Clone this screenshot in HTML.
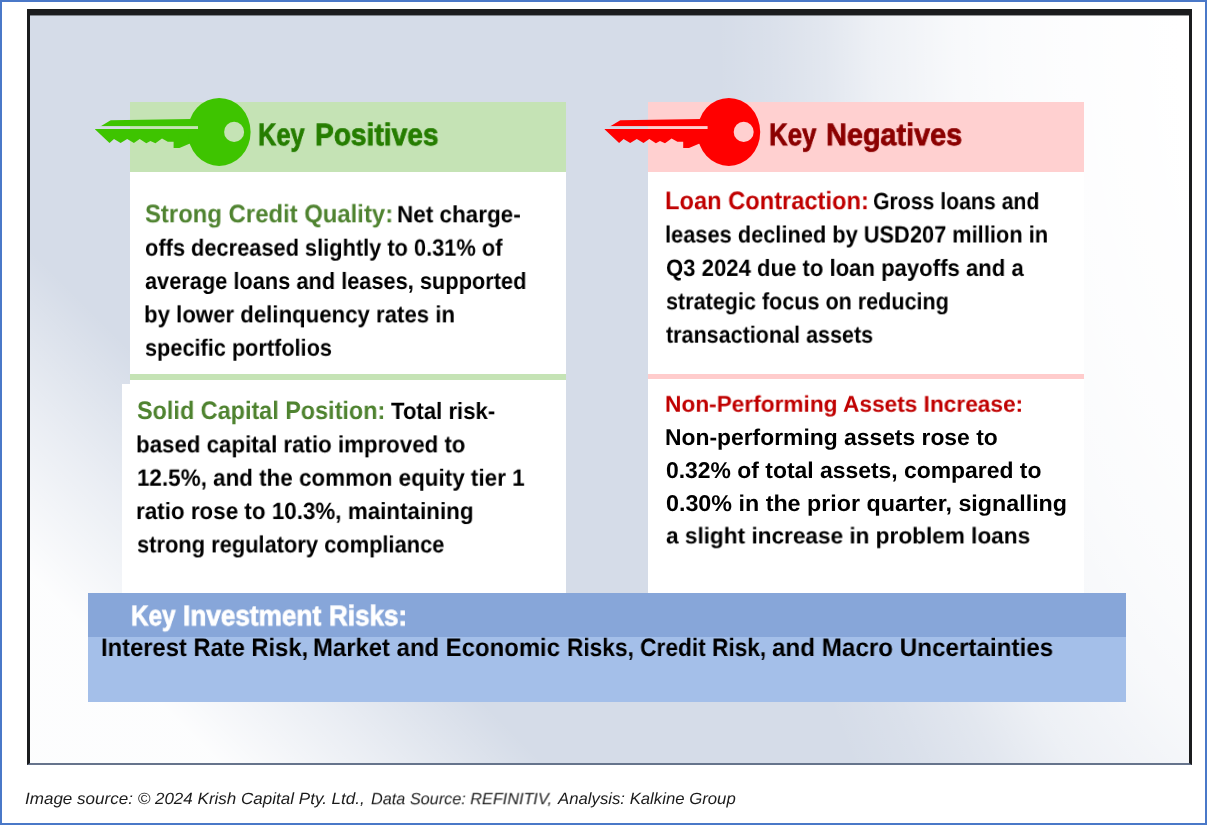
<!DOCTYPE html>
<html><head><meta charset="utf-8"><title>Key Positives and Negatives</title><style>

html,body{margin:0;padding:0;}
body{width:1207px;height:825px;position:relative;overflow:hidden;background:#fff;
 font-family:"Liberation Sans",sans-serif;text-rendering:geometricPrecision;}
.outer{position:absolute;left:0;top:0;width:1203px;height:821px;border:2px solid #4a78c8;}
.panel{position:absolute;left:27px;top:9px;width:1159px;height:748px;
 border-style:solid;border-color:#1b1c1e;border-width:6px 3px 2px 3px;border-bottom-color:#66748c;box-shadow:inset 0 1px 0 rgba(27,28,30,.45);
 background:linear-gradient(45deg,rgba(255,255,255,.94) 0%,rgba(255,255,255,.94) 10%,rgba(255,255,255,.5) 18.5%,rgba(255,255,255,0) 27%),
 radial-gradient(ellipse 643px 1225px at 1329px 0px,#fff 28%,rgba(255,255,255,.95) 45%,rgba(255,255,255,.89) 56%,rgba(255,255,255,.82) 63.3%,rgba(255,255,255,.7) 69%,rgba(255,255,255,.58) 75.5%,rgba(255,255,255,.32) 83%,rgba(255,255,255,.12) 91.8%,rgba(255,255,255,0) 100%),#d5dce8;}
.bx{position:absolute;}
.ln{position:absolute;white-space:pre;line-height:1;transform-origin:0 0;font-weight:bold;will-change:transform;filter:blur(.3px);}
.ln.i{font-weight:normal;font-style:italic;}
.ln.t{-webkit-text-stroke:0.8px currentColor;}
.key{position:absolute;left:0;top:0;}

</style></head><body>
<div class="outer"></div><div class="panel"></div>
<div class="bx" style="left:130px;top:101.5px;width:436.3px;height:71px;background:#c5e3b5;"></div>
<div class="bx" style="left:130px;top:172px;width:436.3px;height:212px;background:#fff;"></div>
<div class="bx" style="left:130px;top:374px;width:436.3px;height:6px;background:#c5e3b5;"></div>
<div class="bx" style="left:122px;top:384px;width:444.3px;height:209px;background:#fff;"></div>
<div class="bx" style="left:648px;top:101.5px;width:436.3px;height:71px;background:#ffd0d0;"></div>
<div class="bx" style="left:648px;top:172px;width:436.3px;height:421px;background:#fff;"></div>
<div class="bx" style="left:648px;top:374px;width:436.3px;height:5px;background:#ffcccc;"></div>
<div class="bx" style="left:88.3px;top:593.3px;width:1038px;height:108.7px;background:#a4bfe9;"></div>
<div class="bx" style="left:88.3px;top:593.3px;width:1038px;height:43.5px;background:#87a6d9;"></div>
<svg class="key" width="1207" height="825" viewBox="0 0 1207 825"><defs><mask id="mg" maskUnits="userSpaceOnUse" x="0" y="0" width="1207" height="825"><rect x="0" y="0" width="1207" height="825" fill="#fff"/><ellipse cx="234.1" cy="131.9" rx="10" ry="10.2" fill="#000"/><rect x="88.0" y="126.1" width="110.0" height="2.9" fill="#000"/></mask></defs><g mask="url(#mg)" fill="#3ec400"><polygon points="100.7,126.2 110.7,120.3 191.0,119.0 200.0,119.0 200.0,146.0 189.4,143.8 179.4,148.0 173.6,148.0 173.6,141.7 167.8,141.7 162.0,138.4 155.4,143.3 150.4,141.0 146.3,143.3 139.7,138.9 133.9,143.0 127.2,138.9 120.6,143.0 114.0,138.9 109.5,143.0 94.9,129.3"/><ellipse cx="219.2" cy="131.9" rx="31.4" ry="34.0"/></g></svg>
<svg class="key" width="1207" height="825" viewBox="0 0 1207 825"><defs><mask id="mr" maskUnits="userSpaceOnUse" x="0" y="0" width="1207" height="825"><rect x="0" y="0" width="1207" height="825" fill="#fff"/><ellipse cx="743.7" cy="131.9" rx="10" ry="10.2" fill="#000"/><rect x="597.6" y="126.1" width="110.0" height="2.9" fill="#000"/></mask></defs><g mask="url(#mr)" fill="#ff0000"><polygon points="610.3,126.2 620.3,120.3 700.6,119.0 709.6,119.0 709.6,146.0 699.0,143.8 689.0,148.0 683.2,148.0 683.2,141.7 677.4,141.7 671.6,138.4 665.0,143.3 660.0,141.0 655.9,143.3 649.3,138.9 643.5,143.0 636.8,138.9 630.2,143.0 623.6,138.9 619.1,143.0 604.5,129.3"/><ellipse cx="728.8" cy="131.9" rx="31.4" ry="34.0"/></g></svg>
<div id="t1a" class="ln t" style="left:258.01px;top:119px;font-size:31.0px;color:#267d00;transform:translate3d(0,0.10px,0) scaleX(0.8164)">Key</div>
<div id="t1b" class="ln t" style="left:315.12px;top:119px;font-size:31.0px;color:#267d00;transform:translate3d(0,0.10px,0) scaleX(0.9068)">Positives</div>
<div id="t2a" class="ln t" style="left:768.98px;top:119px;font-size:31.0px;color:#8b0000;transform:translate3d(0,0.10px,0) scaleX(0.8311)">Key</div>
<div id="t2b" class="ln t" style="left:826.47px;top:119px;font-size:31.0px;color:#8b0000;transform:translate3d(0,0.10px,0) scaleX(0.9293)">Negatives</div>
<div id="a1g" class="ln" style="left:144.91px;top:202px;font-size:25.3px;color:#4f8330;transform:translate3d(0,0.30px,0) scaleX(0.9440)">Strong Credit Quality:</div>
<div id="a1" class="ln" style="left:397.20px;top:204px;font-size:23.6px;color:#000000;transform:translate3d(0,0.30px,0) scaleX(0.9530)">Net charge-</div>
<div id="a2" class="ln" style="left:145.15px;top:237px;font-size:23.6px;color:#000000;transform:translate3d(0,0.65px,0) scaleX(0.9241)">offs decreased slightly to 0.31% of</div>
<div id="a3" class="ln" style="left:144.86px;top:271px;font-size:23.6px;color:#000000;transform:translate3d(0,0.00px,0) scaleX(0.9233)">average loans and leases, supported</div>
<div id="a4" class="ln" style="left:144.14px;top:304px;font-size:23.6px;color:#000000;transform:translate3d(0,0.35px,0) scaleX(0.9411)">by lower delinquency rates in</div>
<div id="a5" class="ln" style="left:144.84px;top:337px;font-size:23.6px;color:#000000;transform:translate3d(0,0.70px,0) scaleX(0.9201)">specific portfolios</div>
<div id="b1g" class="ln" style="left:136.83px;top:399px;font-size:25.3px;color:#4f8330;transform:translate3d(0,0.00px,0) scaleX(0.9251)">Solid Capital Position:</div>
<div id="b1" class="ln" style="left:390.75px;top:401px;font-size:23.6px;color:#000000;transform:translate3d(0,0.00px,0) scaleX(0.9382)">Total risk-</div>
<div id="b2" class="ln" style="left:136.33px;top:434px;font-size:23.6px;color:#000000;transform:translate3d(0,0.35px,0) scaleX(0.9446)">based capital ratio improved to</div>
<div id="b3" class="ln" style="left:136.89px;top:467px;font-size:23.6px;color:#000000;transform:translate3d(0,0.70px,0) scaleX(0.9504)">12.5%, and the common equity tier 1</div>
<div id="b4" class="ln" style="left:136.32px;top:501px;font-size:23.6px;color:#000000;transform:translate3d(0,0.05px,0) scaleX(0.9498)">ratio rose to 10.3%, maintaining</div>
<div id="b5" class="ln" style="left:136.98px;top:534px;font-size:23.6px;color:#000000;transform:translate3d(0,0.40px,0) scaleX(0.9267)">strong regulatory compliance</div>
<div id="c1r" class="ln" style="left:665.32px;top:189px;font-size:25.3px;color:#c00000;transform:translate3d(0,0.15px,0) scaleX(0.9355)">Loan Contraction:</div>
<div id="c1" class="ln" style="left:873.43px;top:191px;font-size:23.6px;color:#000000;transform:translate3d(0,0.15px,0) scaleX(0.8999)">Gross loans and</div>
<div id="c2" class="ln" style="left:665.28px;top:224px;font-size:23.6px;color:#000000;transform:translate3d(0,0.50px,0) scaleX(0.9243)">leases declined by USD207 million in</div>
<div id="c3" class="ln" style="left:665.59px;top:257px;font-size:23.6px;color:#000000;transform:translate3d(0,0.90px,0) scaleX(0.9374)">Q3 2024 due to loan payoffs and a</div>
<div id="c4" class="ln" style="left:665.64px;top:291px;font-size:23.6px;color:#000000;transform:translate3d(0,0.30px,0) scaleX(0.9141)">strategic focus on reducing</div>
<div id="c5" class="ln" style="left:666.19px;top:324px;font-size:23.6px;color:#000000;transform:translate3d(0,0.65px,0) scaleX(0.9128)">transactional assets</div>
<div id="d1" class="ln" style="left:665.48px;top:392px;font-size:22.8px;color:#c00000;transform:translate3d(0,0.70px,0) scaleX(0.9943)">Non-Performing Assets Increase:</div>
<div id="d2" class="ln" style="left:665.47px;top:425px;font-size:22.8px;color:#000000;transform:translate3d(0,0.60px,0) scaleX(1.0025)">Non-performing assets rose to</div>
<div id="d3" class="ln" style="left:665.69px;top:458px;font-size:22.8px;color:#000000;transform:translate3d(0,0.55px,0) scaleX(1.0045)">0.32% of total assets, compared to</div>
<div id="d4" class="ln" style="left:665.68px;top:491px;font-size:22.8px;color:#000000;transform:translate3d(0,0.50px,0) scaleX(1.0213)">0.30% in the prior quarter, signalling</div>
<div id="d5" class="ln" style="left:665.79px;top:524px;font-size:22.8px;color:#000000;transform:translate3d(0,0.40px,0) scaleX(0.9912)">a slight increase in problem loans</div>
<div id="r1a" class="ln t" style="left:131.27px;top:602px;font-size:28.4px;color:#ffffff;transform:translate3d(0,0.30px,0) scaleX(0.8555)">Key</div>
<div id="r1b" class="ln t" style="left:183.05px;top:602px;font-size:28.4px;color:#ffffff;transform:translate3d(0,0.30px,0) scaleX(0.9219)">Investment</div>
<div id="r1c" class="ln t" style="left:328.86px;top:602px;font-size:28.4px;color:#ffffff;transform:translate3d(0,0.30px,0) scaleX(0.9158)">Risks:</div>
<div id="r2a" class="ln" style="left:100.61px;top:636px;font-size:25.3px;color:#000000;transform:translate3d(0,0.00px,0) scaleX(0.9381)">Interest Rate Risk,</div>
<div id="r2b" class="ln" style="left:313.10px;top:636px;font-size:25.3px;color:#000000;transform:translate3d(0,0.00px,0) scaleX(0.9443)">Market and Economic</div>
<div id="r2c" class="ln" style="left:567.08px;top:636px;font-size:25.3px;color:#000000;transform:translate3d(0,0.00px,0) scaleX(0.8969)">Risks, Credit Risk,</div>
<div id="r2d" class="ln" style="left:772.49px;top:636px;font-size:25.3px;color:#000000;transform:translate3d(0,0.00px,0) scaleX(0.9568)">and Macro Uncertainties</div>
<div id="f1" class="ln i" style="left:24.53px;top:791px;font-size:16.3px;color:#1a1a1a;transform:translate3d(0,0.20px,0) scaleX(1.0460)">Image source: © 2024 Krish Capital Pty. Ltd.,</div>
<div id="f2" class="ln i" style="left:370.70px;top:791px;font-size:16.3px;color:#1a1a1a;transform:translate3d(0,0.20px,0) scaleX(0.9969)">Data Source: REFINITIV,</div>
<div id="f3" class="ln i" style="left:558.23px;top:791px;font-size:16.3px;color:#1a1a1a;transform:translate3d(0,0.20px,0) scaleX(1.0282)">Analysis: Kalkine Group</div>
</body></html>
